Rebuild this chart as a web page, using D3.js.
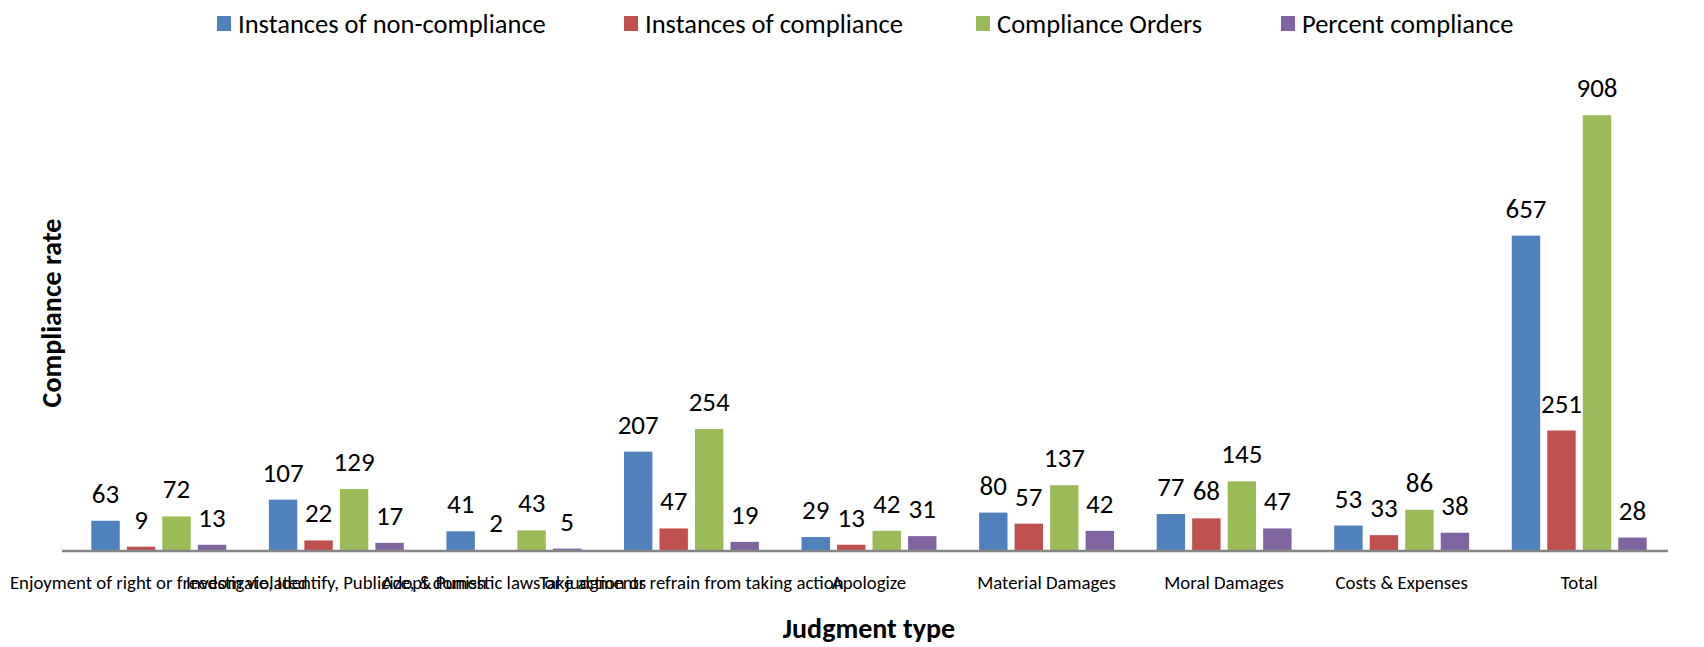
<!DOCTYPE html>
<html>
<head>
<meta charset="utf-8">
<script src="https://cdn.jsdelivr.net/npm/d3@7"></script>
<style>
  body { margin: 0; background: #fff; }
  text { font-family: Calibri, Carlito, Lato, sans-serif; fill: #000; }
</style>
</head>
<body>
<div id="chart"></div>
<script>
const categories = [
  'Enjoyment of right or freedom violated',
  'Investigate, Identify, Publicize, & Punish',
  'Adopt domestic laws or judgments',
  'Take action or refrain from taking action',
  'Apologize',
  'Material Damages',
  'Moral Damages',
  'Costs & Expenses',
  'Total'
];
const seriesNames = ['Instances of non-compliance', 'Instances of compliance', 'Compliance Orders', 'Percent compliance'];
const nonCompliance = [63, 107, 41, 207, 29, 80, 77, 53, 657];
const compliance = [9, 22, 2, 47, 13, 57, 68, 33, 251];
const complianceOrders = [72, 129, 43, 254, 42, 137, 145, 86, 908];
const percentCompliance = [13, 17, 5, 19, 31, 42, 47, 38, 28];
const colors = ['#4F81BD', '#C0504D', '#9BBB59', '#8064A2'];

const width = 1704, height = 647;
const series = [nonCompliance, compliance, complianceOrders, percentCompliance];
const data = categories.map((c, i) => ({ cat: c, values: series.map(s => s[i]) }));

const svg = d3.select('#chart').append('svg')
  .attr('width', width)
  .attr('height', height);

// scales
const x0 = d3.scaleBand().domain(categories).range([70, 1668]);
const x1 = d3.scaleBand().domain(d3.range(4)).range([0, 142]).paddingInner(0.2).paddingOuter(0.1);
const groupOffset = (x0.bandwidth() - 142) / 2;
const y = d3.scaleLinear().domain([0, 1000]).range([551, 71]);

// bars
const groups = svg.selectAll('g.group')
  .data(data)
  .enter().append('g')
  .attr('class', 'group')
  .attr('transform', d => `translate(${x0(d.cat) + groupOffset},0)`);

groups.selectAll('rect')
  .data(d => d.values)
  .enter().append('rect')
  .attr('x', (d, i) => x1(i))
  .attr('y', d => y(d))
  .attr('width', x1.bandwidth())
  .attr('height', d => y(0) - y(d))
  .attr('fill', (d, i) => colors[i]);

groups.selectAll('text.val')
  .data(d => d.values)
  .enter().append('text')
  .attr('class', 'val')
  .attr('x', (d, i) => x1(i) + x1.bandwidth() / 2)
  .attr('y', d => y(d) - 18)
  .attr('text-anchor', 'middle')
  .style('font-size', '27px')
  .text(d => d);

// x axis
const xAxis = svg.append('g')
  .attr('transform', `translate(0,${y(0)})`)
  .call(d3.axisBottom(x0).tickSize(0).tickPadding(25));
xAxis.select('.domain')
  .attr('d', 'M62,0H1668')
  .attr('stroke', '#868686')
  .attr('stroke-width', 2.5);
xAxis.selectAll('text')
  .style('font-size', '18.8px')
  .style('font-family', 'Calibri, Carlito, Lato, sans-serif');

// axis titles
svg.append('text')
  .attr('transform', `translate(61,313) rotate(-90)`)
  .attr('text-anchor', 'middle')
  .style('font-size', '28px')
  .style('font-weight', 'bold')
  .text('Compliance rate');

svg.append('text')
  .attr('x', 869)
  .attr('y', 638)
  .attr('text-anchor', 'middle')
  .style('font-size', '28px')
  .style('font-weight', 'bold')
  .text('Judgment type');

// legend
const legendX = [217, 624, 976, 1281];
const legend = svg.selectAll('g.legend')
  .data(seriesNames)
  .enter().append('g')
  .attr('class', 'legend')
  .attr('transform', (d, i) => `translate(${legendX[i]},24)`);
legend.append('rect')
  .attr('x', 0).attr('y', -8)
  .attr('width', 14).attr('height', 15)
  .attr('fill', (d, i) => colors[i]);
legend.append('text')
  .attr('x', 21).attr('y', 9)
  .style('font-size', '26.5px')
  .text(d => d);
</script>
</body>
</html>
